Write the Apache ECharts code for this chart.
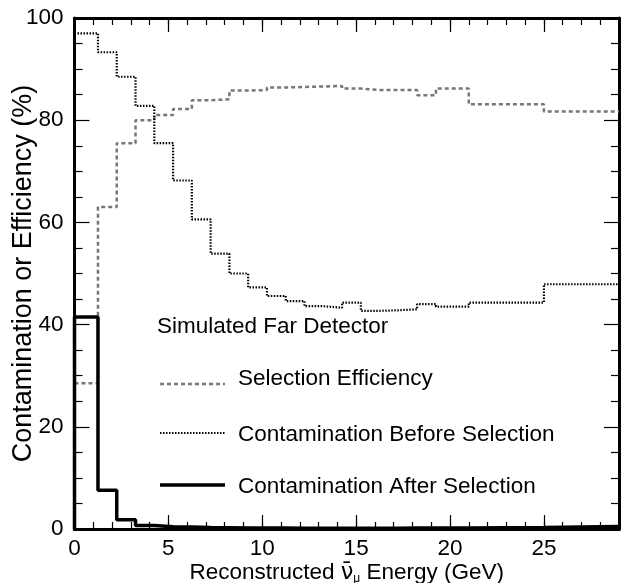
<!DOCTYPE html>
<html><head><meta charset="utf-8">
<script src="https://cdn.jsdelivr.net/npm/echarts@6/dist/echarts.min.js"></script>
<style>html,body{margin:0;padding:0;background:#fff}#c{width:626px;height:583px}</style>
</head><body><div id="c"></div>
<script>
// Bin edges in reconstructed energy (GeV)
const binEdges = [0, 1.25, 2.25, 3.25, 4.25, 5.25, 6.25, 7.25, 8.25, 9.25, 10.25, 11.25, 12.25, 13.25, 14.25, 15.25, 16.25, 17.25, 18.25, 19.25, 21, 25, 29];
// Selection efficiency (%)
const efficiency = [28.5, 63.0, 75.5, 80.0, 81.0, 82.2, 83.9, 84.1, 85.8, 85.9, 86.4, 86.5, 86.6, 86.7, 86.2, 85.9, 85.9, 85.9, 84.9, 86.2, 83.1, 81.7];
// Contamination before selection (%)
const contamBefore = [97.0, 93.3, 88.5, 82.8, 75.5, 68.2, 60.6, 53.9, 50.0, 47.3, 45.6, 44.6, 43.6, 43.3, 44.3, 42.7, 42.8, 43.0, 44.0, 43.5, 44.3, 47.9];
// Contamination after selection (%)
const contamAfter = [41.5, 7.6, 1.8, 0.7, 0.45, 0.4, 0.3, 0.25, 0.2, 0.2, 0.2, 0.15, 0.15, 0.15, 0.15, 0.15, 0.15, 0.2, 0.2, 0.2, 0.3, 0.5];
const legendTitle = 'Simulated Far Detector';
const legendNames = ['Selection Efficiency', 'Contamination Before Selection', 'Contamination After Selection'];

function steps(vals, startZero) {
  const pts = vals.map((v, i) => [binEdges[i], v]);
  pts.push([binEdges[binEdges.length - 1], vals[vals.length - 1]]);
  if (startZero) pts.unshift([binEdges[0], 0]);
  return pts;
}

const FONT = 'Liberation Sans, Arial, Helvetica, sans-serif';
const FS = 22.5;
const frame = { show: true, onZero: false, lineStyle: { color: '#000', width: 3 } };
const chart = echarts.init(document.getElementById('c'), null, { renderer: 'canvas' });

const gridL = 74.5, gridR = 7, gridT = 18, gridB = 54;

chart.setOption({
  animation: false,
  backgroundColor: '#fff',
  grid: { left: gridL, right: gridR, top: gridT, bottom: gridB, containLabel: false, outerBoundsMode: 'none' },
  xAxis: [
    { type: 'value', min: 0, max: 29, interval: 5, position: 'bottom',
      axisLine: frame, splitLine: { show: false },
      axisTick: { show: true, inside: true, length: 14, lineStyle: { color: '#000', width: 1.2 } },
      axisLabel: { fontSize: FS, color: '#000', fontFamily: FONT, margin: 8, showMaxLabel: false },
      name: '{a|Reconstructed }{b|ν̄}{c|μ}{a| Energy (GeV)}',
      nameLocation: 'middle', nameGap: 32, nameMoveOverlap: false,
      nameTextStyle: { rich: {
        a: { fontSize: FS, fontFamily: FONT, color: '#000' },
        b: { fontSize: FS, fontFamily: 'DejaVu Sans', color: '#000' },
        c: { fontSize: 12, fontFamily: FONT, color: '#000', verticalAlign: 'bottom', padding: [12, 0, 0, 0] }
      } } },
    { type: 'value', min: 0, max: 29, interval: 1, position: 'bottom',
      axisLine: frame, splitLine: { show: false }, axisLabel: { show: false },
      axisTick: { show: true, inside: true, length: 7, lineStyle: { color: '#000', width: 1.2 } } },
    { type: 'value', min: 0, max: 29, interval: 5, position: 'top',
      axisLine: frame, splitLine: { show: false }, axisLabel: { show: false },
      axisTick: { show: true, inside: true, length: 14, lineStyle: { color: '#000', width: 1.2 } } },
    { type: 'value', min: 0, max: 29, interval: 1, position: 'top',
      axisLine: frame, splitLine: { show: false }, axisLabel: { show: false },
      axisTick: { show: true, inside: true, length: 7, lineStyle: { color: '#000', width: 1.2 } } }
  ],
  yAxis: [
    { type: 'value', min: 0, max: 100, interval: 20, position: 'left',
      axisLine: frame, splitLine: { show: false },
      axisTick: { show: true, inside: true, length: 15, lineStyle: { color: '#000', width: 1.2 } },
      minorTick: { show: true, splitNumber: 4, length: 8, lineStyle: { color: '#000', width: 1.2 } },
      axisLabel: { fontSize: FS, color: '#000', fontFamily: FONT, margin: 11 },
      name: 'Contamination or Efficiency (%)', nameLocation: 'middle', nameGap: 37, nameMoveOverlap: false,
      nameTextStyle: { fontSize: 27, fontFamily: FONT, color: '#000' } },
    { type: 'value', min: 0, max: 100, interval: 20, position: 'right',
      axisLine: frame, splitLine: { show: false }, axisLabel: { show: false },
      axisTick: { show: true, inside: true, length: 15, lineStyle: { color: '#000', width: 1.2 } },
      minorTick: { show: true, splitNumber: 4, length: 8, lineStyle: { color: '#000', width: 1.2 } } }
  ],
  series: [
    { name: legendNames[0], type: 'line', step: 'end', symbol: 'none', xAxisIndex: 0, yAxisIndex: 0,
      data: steps(efficiency, false),
      lineStyle: { color: '#777', width: 2.5, type: [4, 3] } },
    { name: legendNames[1], type: 'line', step: 'end', symbol: 'none', xAxisIndex: 0, yAxisIndex: 0,
      data: steps(contamBefore, false),
      lineStyle: { color: '#000', width: 2.2, type: [1.5, 1.5] } },
    { name: legendNames[2], type: 'line', step: 'end', symbol: 'none', xAxisIndex: 0, yAxisIndex: 0,
      data: steps(contamAfter, true),
      lineStyle: { color: '#000', width: 3.5 } }
  ],
  graphic: [
    { type: 'text', left: 157, top: 315, style: { text: legendTitle, fontSize: FS, fontFamily: FONT, fill: '#000' } },
    { type: 'line', shape: { x1: 160, y1: 384, x2: 225, y2: 384 }, style: { stroke: '#777', lineWidth: 2.5, lineDash: [4, 3] } },
    { type: 'text', left: 238, top: 367, style: { text: legendNames[0], fontSize: FS, fontFamily: FONT, fill: '#000' } },
    { type: 'line', shape: { x1: 160, y1: 433, x2: 225, y2: 433 }, style: { stroke: '#000', lineWidth: 2.2, lineDash: [1.5, 1.5] } },
    { type: 'text', left: 238, top: 423, style: { text: legendNames[1], fontSize: FS, fontFamily: FONT, fill: '#000' } },
    { type: 'line', shape: { x1: 160, y1: 485, x2: 225, y2: 485 }, style: { stroke: '#000', lineWidth: 3.5 } },
    { type: 'text', left: 238, top: 475, style: { text: legendNames[2], fontSize: FS, fontFamily: FONT, fill: '#000' } }
  ]
});
</script>
</body></html>
